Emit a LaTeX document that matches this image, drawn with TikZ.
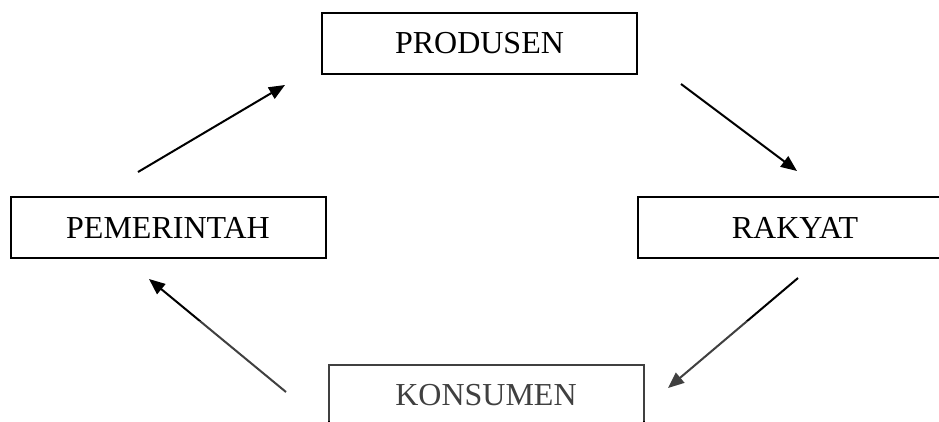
\documentclass[tikz,border=0pt]{standalone}
\usepackage{fontspec}
\setmainfont{Liberation Serif}
\usetikzlibrary{arrows.meta}
\tikzset{
  kotak/.style={draw, line width=2pt, minimum width=315pt, minimum height=61pt,
    inner sep=0pt, font=\fontsize{32}{38}\selectfont},
  panah/.style={line width=2pt, -{Triangle[length=16pt,width=13pt]}}
}
\begin{document}
\begin{tikzpicture}[x=1pt,y=-1pt]
  \useasboundingbox (0,0) rectangle (939,421) ;
  \node[kotak] (produsen) at (479.5,43.5) {PRODUSEN} ;
  \node[kotak] (pemerintah) at (168,227.5) {PEMERINTAH} ;
  \node[kotak] (rakyat) at (795,227.5) {RAKYAT} ;
  \node[kotak] (konsumen) at (486,395.5) {KONSUMEN} ;

  \coordinate (a1) at (138,172) ;
  \coordinate (b1) at (285,85) ;
  \coordinate (a2) at (681,84) ;
  \coordinate (b2) at (797,171) ;
  \coordinate (a3) at (798,278) ;
  \coordinate (b3) at (668,388) ;
  \coordinate (a4) at (286,392) ;
  \coordinate (b4) at (149,279) ;
  \draw[panah] (a1) -- (b1) ;
  \draw[panah] (a2) -- (b2) ;
  \draw[panah] (a3) -- (b3) ;
  \draw[panah] (a4) -- (b4) ;

  % bagian bawah tampak pudar
  \fill[white,opacity=0.25] (0,321) rectangle (939,421) ;
\end{tikzpicture}
\end{document}
